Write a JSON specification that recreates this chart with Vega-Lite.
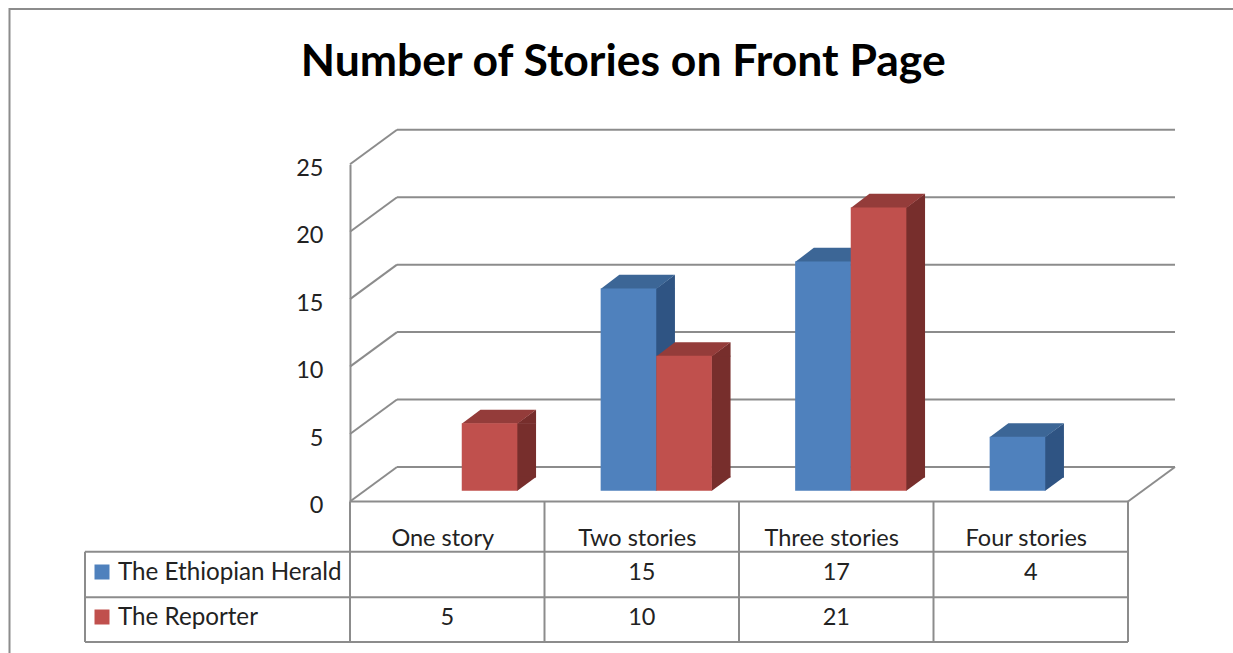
{
  "$schema": "https://vega.github.io/schema/vega-lite/v6.json",
  "usermeta": {"embedOptions": {"actions": false}},
  "width": 1227.5,
  "height": 648,
  "autosize": {"type": "none"},
  "padding": {"left": 9.5, "top": 9, "right": -4, "bottom": -4},
  "background": "#ffffff",
  "config": {"view": {"stroke": "#8c8c8c", "strokeWidth": 2}, "font": "Lato"},
  "title": {"text": "Number of Stories on Front Page", "font": "Lato", "fontSize": 44.5, "fontWeight": "bold", "color": "#000000", "anchor": "middle", "frame": "group", "orient": "top", "offset": -111, "baseline": "alphabetic"},
  "datasets": {
    "stories": [
      {"category": "One story", "series": "The Reporter", "value": 5},
      {"category": "Two stories", "series": "The Ethiopian Herald", "value": 15},
      {"category": "Two stories", "series": "The Reporter", "value": 10},
      {"category": "Three stories", "series": "The Ethiopian Herald", "value": 17},
      {"category": "Three stories", "series": "The Reporter", "value": 21},
      {"category": "Four stories", "series": "The Ethiopian Herald", "value": 4}
    ],
    "grid": [{"v": 0}, {"v": 5}, {"v": 10}, {"v": 15}, {"v": 20}, {"v": 25}],
    "cols": [{"u": 0}, {"u": 1}, {"u": 2}, {"u": 3}, {"u": 4}],
    "series": [{"series": "The Ethiopian Herald"}, {"series": "The Reporter"}],
    "one": [{"k": 1}]
  },
  "resolve": {"scale": {"x": "independent"}},
  "layer": [
    {
      "layer": [
        {
          "data": {"name": "grid"},
          "mark": {"type": "rule", "color": "#8c8c8c", "strokeWidth": 2, "xOffset": 47, "x2Offset": 47, "yOffset": -34.5, "y2Offset": -34.5},
          "encoding": {
            "x": {"datum": 0, "type": "quantitative", "scale": {"type": "linear", "domain": [0, 4], "range": [340.5, 1118.5], "nice": false, "zero": false}, "axis": null},
            "x2": {"datum": 4},
            "y": {"field": "v", "type": "quantitative", "scale": {"type": "linear", "domain": [0, 25], "range": [492.5, 155.3], "nice": false, "zero": false}, "title": null},
            "y2": {"field": "v"}
          }
        },
        {
          "data": {"name": "grid"},
          "mark": {"type": "rule", "color": "#8c8c8c", "strokeWidth": 2, "x2Offset": 47, "y2Offset": -34.5},
          "encoding": {
            "x": {"datum": 0, "type": "quantitative", "axis": null},
            "x2": {"datum": 0},
            "y": {"field": "v", "type": "quantitative", "title": null},
            "y2": {"field": "v"}
          }
        },
        {
          "data": {"name": "one"},
          "mark": {"type": "rule", "color": "#8c8c8c", "strokeWidth": 2},
          "encoding": {
            "x": {"datum": 0, "type": "quantitative", "axis": null},
            "x2": {"datum": 4},
            "y": {"datum": 0, "type": "quantitative", "title": null}
          }
        },
        {
          "data": {"name": "one"},
          "mark": {"type": "rule", "color": "#8c8c8c", "strokeWidth": 2, "x2Offset": 47, "y2Offset": -34.5},
          "encoding": {
            "x": {"datum": 4, "type": "quantitative", "axis": null},
            "x2": {"datum": 4},
            "y": {"datum": 0, "type": "quantitative", "title": null},
            "y2": {"datum": 0}
          }
        },
        {
          "data": {"name": "one"},
          "mark": {"type": "rule", "color": "#8c8c8c", "strokeWidth": 2, "xOffset": -265, "yOffset": 50.2},
          "encoding": {
            "x": {"datum": 0, "type": "quantitative", "axis": null},
            "x2": {"datum": 4},
            "y": {"datum": 0, "type": "quantitative", "title": null}
          }
        },
        {
          "data": {"name": "one"},
          "mark": {"type": "rule", "color": "#8c8c8c", "strokeWidth": 2, "xOffset": -265, "yOffset": 95.8},
          "encoding": {
            "x": {"datum": 0, "type": "quantitative", "axis": null},
            "x2": {"datum": 4},
            "y": {"datum": 0, "type": "quantitative", "title": null}
          }
        },
        {
          "data": {"name": "one"},
          "mark": {"type": "rule", "color": "#8c8c8c", "strokeWidth": 2, "xOffset": -265, "yOffset": 140.5},
          "encoding": {
            "x": {"datum": 0, "type": "quantitative", "axis": null},
            "x2": {"datum": 4},
            "y": {"datum": 0, "type": "quantitative", "title": null}
          }
        },
        {
          "data": {"name": "cols"},
          "mark": {"type": "rule", "color": "#8c8c8c", "strokeWidth": 2, "y2Offset": 140.5},
          "encoding": {
            "x": {"field": "u", "type": "quantitative", "axis": null},
            "y": {"datum": 0, "type": "quantitative", "title": null},
            "y2": {"datum": 0}
          }
        },
        {
          "data": {"name": "one"},
          "mark": {"type": "rule", "color": "#8c8c8c", "strokeWidth": 2, "xOffset": -265, "yOffset": 50.2, "y2Offset": 140.5},
          "encoding": {
            "x": {"datum": 0, "type": "quantitative", "axis": null},
            "y": {"datum": 0, "type": "quantitative", "title": null},
            "y2": {"datum": 0}
          }
        },
        {
          "data": {"name": "series"},
          "transform": [{"filter": "datum.series === 'The Ethiopian Herald'"}],
          "mark": {"type": "point", "shape": "square", "size": 225, "filled": true, "opacity": 1, "color": "#4F81BD", "xOffset": -248, "yOffset": 70.5},
          "encoding": {
            "x": {"datum": 0, "type": "quantitative", "axis": null},
            "y": {"datum": 0, "type": "quantitative", "title": null}
          }
        },
        {
          "data": {"name": "series"},
          "transform": [{"filter": "datum.series === 'The Reporter'"}],
          "mark": {"type": "point", "shape": "square", "size": 225, "filled": true, "opacity": 1, "color": "#C0504D", "xOffset": -248, "yOffset": 115.5},
          "encoding": {
            "x": {"datum": 0, "type": "quantitative", "axis": null},
            "y": {"datum": 0, "type": "quantitative", "title": null}
          }
        },
        {
          "data": {"name": "series"},
          "transform": [{"filter": "datum.series === 'The Ethiopian Herald'"}],
          "mark": {"type": "text", "align": "left", "baseline": "middle", "font": "Lato", "fontSize": 24.2, "color": "#222222", "xOffset": -232, "yOffset": 71},
          "encoding": {
            "x": {"datum": 0, "type": "quantitative", "axis": null},
            "y": {"datum": 0, "type": "quantitative", "title": null},
            "text": {"field": "series"}
          }
        },
        {
          "data": {"name": "series"},
          "transform": [{"filter": "datum.series === 'The Reporter'"}],
          "mark": {"type": "text", "align": "left", "baseline": "middle", "font": "Lato", "fontSize": 24.2, "color": "#222222", "xOffset": -232, "yOffset": 116},
          "encoding": {
            "x": {"datum": 0, "type": "quantitative", "axis": null},
            "y": {"datum": 0, "type": "quantitative", "title": null},
            "text": {"field": "series"}
          }
        }
      ]
    },
    {
      "data": {"name": "stories"},
      "layer": [
        {
          "transform": [{"filter": "datum.series === 'The Ethiopian Herald'"}],
          "mark": {"type": "rule", "color": "#2F5483", "strokeWidth": 19.2, "strokeCap": "butt", "xOffset": 23.6, "yOffset": -10.8, "y2Offset": -23.9},
          "encoding": {
            "x": {"field": "category", "type": "nominal", "scale": {"type": "band", "domain": ["One story", "Two stories", "Three stories", "Four stories"], "range": [340.5, 1118.5], "paddingInner": 0, "paddingOuter": 0},
              "axis": {"title": null, "orient": "bottom", "offset": -155.5, "ticks": false, "domain": false, "grid": false, "labelFont": "Lato", "labelFontSize": 23.5, "labelColor": "#222222", "labelPadding": 37, "labelBaseline": "middle", "labelAngle": 0, "labelOffset": -4.5}},
            "y": {"field": "value", "type": "quantitative", "scale": {"type": "linear", "domain": [0, 25], "range": [492.5, 155.3], "nice": false, "zero": false},
              "axis": {"title": null, "orient": "left", "offset": -340.5, "values": [0, 5, 10, 15, 20, 25], "ticks": false, "grid": false, "domain": true, "domainColor": "#8c8c8c", "domainWidth": 2, "labelFont": "Lato", "labelFontSize": 23.5, "labelColor": "#222222", "labelPadding": 27, "labelOffset": 4, "labelBaseline": "middle"}},
            "y2": {"datum": 0}
          }
        },
        {
          "transform": [{"filter": "datum.series === 'The Ethiopian Herald'"}],
          "mark": {"type": "point", "shape": "M27.3,0.6L46.5,-13.6L46.5,0.6Z", "size": 4, "filled": true, "opacity": 1, "strokeWidth": 0, "color": "#2F5483", "xOffset": -13.3, "yOffset": -10.8},
          "encoding": {
            "x": {"field": "category", "type": "nominal"},
            "y": {"field": "value", "type": "quantitative", "title": null}
          }
        },
        {
          "transform": [{"filter": "datum.series === 'The Ethiopian Herald'"}],
          "mark": {"type": "point", "shape": "M27.3,-14.1L27.3,0L27.8,0L46.5,-13.6L46.5,-14.1Z", "size": 4, "filled": true, "opacity": 1, "strokeWidth": 0, "color": "#2F5483", "xOffset": -13.3, "yOffset": -10.8},
          "encoding": {
            "x": {"field": "category", "type": "nominal"},
            "y": {"datum": 0, "type": "quantitative", "title": null}
          }
        },
        {
          "transform": [{"filter": "datum.series === 'The Ethiopian Herald'"}],
          "mark": {"type": "point", "shape": "M-27.8,0.6L27.8,0.6L46.5,-13.6L-9.1,-13.6Z", "size": 4, "filled": true, "opacity": 1, "strokeWidth": 0, "color": "#3C6696", "xOffset": -13.3, "yOffset": -10.8},
          "encoding": {
            "x": {"field": "category", "type": "nominal"},
            "y": {"field": "value", "type": "quantitative", "title": null}
          }
        },
        {
          "transform": [{"filter": "datum.series === 'The Ethiopian Herald'"}],
          "mark": {"type": "bar", "width": 55.6, "color": "#4F81BD", "xOffset": -13.3, "yOffset": -10.8, "y2Offset": -10.8},
          "encoding": {
            "x": {"field": "category", "type": "nominal"},
            "y": {"field": "value", "type": "quantitative", "title": null, "stack": null},
            "y2": {"datum": 0}
          }
        },
        {
          "transform": [{"filter": "datum.series === 'The Reporter'"}],
          "mark": {"type": "rule", "color": "#772E2C", "strokeWidth": 19.2, "strokeCap": "butt", "xOffset": 79.2, "yOffset": -10.8, "y2Offset": -23.9},
          "encoding": {
            "x": {"field": "category", "type": "nominal"},
            "y": {"field": "value", "type": "quantitative", "title": null},
            "y2": {"datum": 0}
          }
        },
        {
          "transform": [{"filter": "datum.series === 'The Reporter'"}],
          "mark": {"type": "point", "shape": "M27.3,0.6L46.5,-13.6L46.5,0.6Z", "size": 4, "filled": true, "opacity": 1, "strokeWidth": 0, "color": "#772E2C", "xOffset": 42.3, "yOffset": -10.8},
          "encoding": {
            "x": {"field": "category", "type": "nominal"},
            "y": {"field": "value", "type": "quantitative", "title": null}
          }
        },
        {
          "transform": [{"filter": "datum.series === 'The Reporter'"}],
          "mark": {"type": "point", "shape": "M27.3,-14.1L27.3,0L27.8,0L46.5,-13.6L46.5,-14.1Z", "size": 4, "filled": true, "opacity": 1, "strokeWidth": 0, "color": "#772E2C", "xOffset": 42.3, "yOffset": -10.8},
          "encoding": {
            "x": {"field": "category", "type": "nominal"},
            "y": {"datum": 0, "type": "quantitative", "title": null}
          }
        },
        {
          "transform": [{"filter": "datum.series === 'The Reporter'"}],
          "mark": {"type": "point", "shape": "M-27.8,0.6L27.8,0.6L46.5,-13.6L-9.1,-13.6Z", "size": 4, "filled": true, "opacity": 1, "strokeWidth": 0, "color": "#943C3A", "xOffset": 42.3, "yOffset": -10.8},
          "encoding": {
            "x": {"field": "category", "type": "nominal"},
            "y": {"field": "value", "type": "quantitative", "title": null}
          }
        },
        {
          "transform": [{"filter": "datum.series === 'The Reporter'"}],
          "mark": {"type": "bar", "width": 55.6, "color": "#C0504D", "xOffset": 42.3, "yOffset": -10.8, "y2Offset": -10.8},
          "encoding": {
            "x": {"field": "category", "type": "nominal"},
            "y": {"field": "value", "type": "quantitative", "title": null, "stack": null},
            "y2": {"datum": 0}
          }
        },
        {
          "transform": [{"filter": "datum.series === 'The Ethiopian Herald'"}],
          "mark": {"type": "text", "align": "center", "baseline": "middle", "font": "Lato", "fontSize": 23.5, "color": "#222222", "yOffset": 71},
          "encoding": {
            "x": {"field": "category", "type": "nominal"},
            "y": {"datum": 0, "type": "quantitative", "title": null},
            "text": {"field": "value"}
          }
        },
        {
          "transform": [{"filter": "datum.series === 'The Reporter'"}],
          "mark": {"type": "text", "align": "center", "baseline": "middle", "font": "Lato", "fontSize": 23.5, "color": "#222222", "yOffset": 116},
          "encoding": {
            "x": {"field": "category", "type": "nominal"},
            "y": {"datum": 0, "type": "quantitative", "title": null},
            "text": {"field": "value"}
          }
        }
      ]
    }
  ]
}
